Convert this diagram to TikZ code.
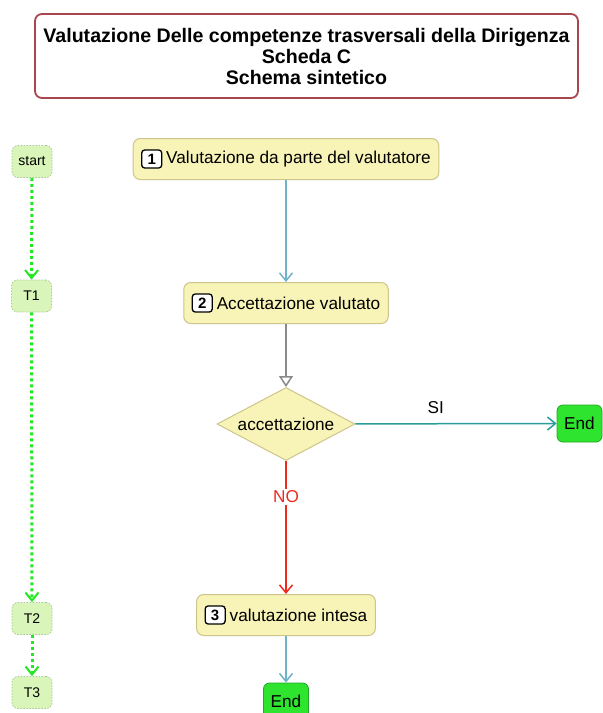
\documentclass[tikz,border=0pt]{standalone}
\usepackage{fontspec}
\setmainfont{Liberation Sans}
\usetikzlibrary{arrows.meta,shapes.geometric}
\definecolor{titlered}{HTML}{A8474D}
\definecolor{stepfill}{HTML}{F8F3B6}
\definecolor{stepborder}{HTML}{CFC48A}
\definecolor{endgreen}{HTML}{2EE42E}
\definecolor{endborder}{HTML}{22A822}
\definecolor{lfill}{HTML}{D9F5B9}
\definecolor{lborder}{HTML}{A9C897}
\definecolor{greenarrow}{HTML}{22E822}
\definecolor{bluearrow}{HTML}{6FB3C8}
\definecolor{tealarrow}{HTML}{2A9C9C}
\definecolor{redarrow}{HTML}{EE2A1E}
\definecolor{grayarrow}{HTML}{8A8A8A}
\begin{document}
\begin{tikzpicture}[x=1pt,y=-1pt,
  titlebox/.style={draw=titlered, line width=1.8pt, rounded corners=7pt, fill=white,
    minimum width=543pt, minimum height=84pt, align=center, inner sep=0pt,
    font=\fontsize{19.6}{21}\selectfont\bfseries},
  stepbox/.style={draw=stepborder, fill=stepfill, line width=1pt, rounded corners=7pt,
    minimum height=41pt, inner xsep=8pt, font=\fontsize{17.2}{20}\selectfont},
  badge/.style={draw=black, fill=white, line width=1.3pt, rounded corners=3pt,
    minimum width=20pt, minimum height=18pt, inner sep=0pt,
    font=\fontsize{15}{15}\selectfont\bfseries},
  decision/.style={diamond, draw=stepborder, fill=stepfill, line width=1pt, aspect=1.9,
    inner sep=0pt, minimum width=138pt, minimum height=73pt,
    font=\fontsize{17.2}{20}\selectfont},
  endbox/.style={draw=endborder, fill=endgreen, line width=0.8pt, rounded corners=6pt,
    minimum width=45pt, minimum height=37pt, inner sep=0pt,
    font=\fontsize{17.2}{20}\selectfont},
  lbox/.style={draw=lborder, dash pattern=on 1.5pt off 1.5pt, fill=lfill, line width=0.8pt, rounded corners=6pt,
    minimum width=40pt, minimum height=32pt, inner sep=0pt,
    font=\fontsize{14}{16}\selectfont},
  conn/.style={line width=1.5pt, -{Straight Barb[length=8pt,width=13pt]}},
  blueline/.style={conn, draw=bluearrow},
  tealline/.style={conn, draw=tealarrow},
  redline/.style={conn, draw=redarrow},
  grayline/.style={line width=1.5pt, draw=grayarrow,
    -{Triangle[open,length=11pt,width=14pt,fill=white]}},
  greenline/.style={line width=3pt, draw=greenarrow, dash pattern=on 3pt off 3pt,
    -{Straight Barb[length=8pt,width=13pt,line width=2pt]}},
]
\useasboundingbox (0,0) rectangle (603,713);
\clip (0,0) rectangle (603,713);
\fill[white] (0,0) rectangle (603,713);

% title
\node[titlebox] (title) at (306.5,56) {Valutazione Delle competenze trasversali della Dirigenza\\Scheda C\\Schema sintetico};

% main steps
\node[stepbox] (s1) at (286,159) {\hspace*{25pt}Valutazione da parte del valutatore};
\node[badge] (b1) at ([xshift=19pt]s1.west) {1};
\node[stepbox] (s2) at (286,303) {\hspace*{25pt}Accettazione valutato};
\node[badge] (b2) at ([xshift=19pt]s2.west) {2};
\node[decision] (d) at (286,424) {accettazione};
\node[endbox] (e1) at (579.5,423.5) {End};
\node[stepbox] (s3) at (286,615) {\hspace*{25pt}valutazione intesa};
\node[badge] (b3) at ([xshift=19pt]s3.west) {3};
\node[endbox] (e2) at (286,701.5) {End};

% left timeline
\node[lbox] (st) at (32,161.5) {start};
\node[lbox] (t1) at (31.5,296) {T1};
\node[lbox] (t2) at (32,618.5) {T2};
\node[lbox] (t3) at (32,692.5) {T3};

% connectors
\draw[blueline] (s1) -- (s2);
\draw[grayline] (s2) -- (d);
\draw[tealline] (d) -- node[pos=0.4, above=6pt, text=black, font=\fontsize{17.2}{20}\selectfont] (si) {SI} (e1);
\draw[redline] (d) -- node[pos=0.27, fill=white, text=redarrow, inner sep=2pt, font=\fontsize{17.2}{20}\selectfont] (no) {NO} (s3);
\draw[blueline] (s3) -- (e2);

\draw[greenline] (st) -- (t1);
\draw[greenline] (t1) -- (t2);
\draw[greenline] (t2) -- (t3);
\end{tikzpicture}
\end{document}
